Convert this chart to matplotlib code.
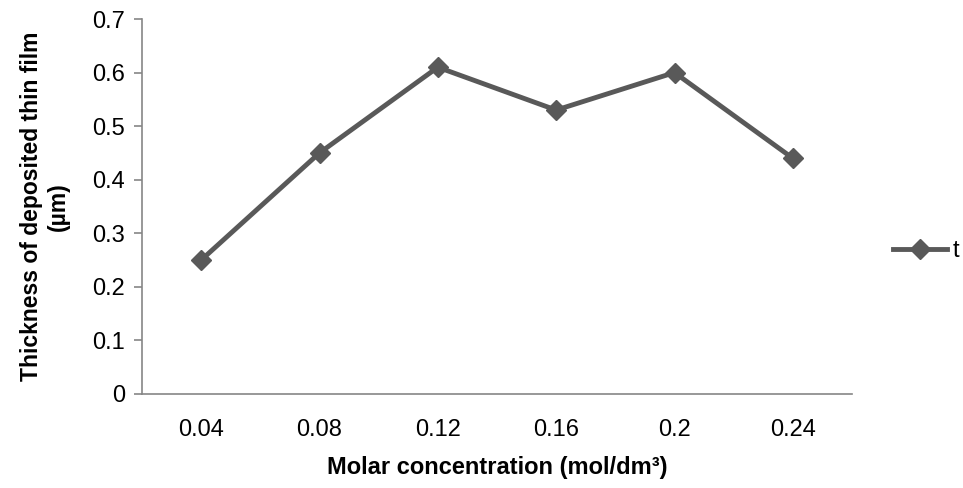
import matplotlib
matplotlib.use("Agg")
from matplotlib import pyplot as plt
from matplotlib import font_manager

# data
concentrations = ["0.04", "0.08", "0.12", "0.16", "0.2", "0.24"]
thickness = [0.25, 0.45, 0.61, 0.53, 0.60, 0.44]
series_name = "t"

names = {f.name for f in font_manager.fontManager.ttflist}
family = "Liberation Sans Narrow" if "Liberation Sans Narrow" in names else "Liberation Sans"
plt.rcParams["font.family"] = [family, "DejaVu Sans"]

line_color = "#595959"
axis_color = "#868686"

fig = plt.figure(figsize=(9.63, 4.88), dpi=100)
ax = fig.add_axes([142 / 963, 1 - 394 / 488, (852 - 142) / 963, (394 - 19) / 488])

x = list(range(len(concentrations)))
ax.plot(x, thickness, color=line_color, lw=3.5, marker="D", markersize=10,
        label=series_name, solid_joinstyle="miter")

ax.set_xlim(-0.5, len(concentrations) - 0.5)
ax.set_ylim(0, 0.7)
ax.set_yticks([0, 0.1, 0.2, 0.3, 0.4, 0.5, 0.6, 0.7])
ax.set_yticklabels(["0", "0.1", "0.2", "0.3", "0.4", "0.5", "0.6", "0.7"])
ax.set_xticks(x)
ax.set_xticklabels(concentrations)

for side in ["top", "right"]:
    ax.spines[side].set_visible(False)
for side in ["left", "bottom"]:
    ax.spines[side].set_color(axis_color)
    ax.spines[side].set_linewidth(1.2)

ax.tick_params(axis="y", length=6, width=1.2, color=axis_color, labelsize=17, pad=6)
ax.tick_params(axis="x", length=0, labelsize=17, pad=18)

ax.set_xlabel("Molar concentration (mol/dm³)", fontsize=17, fontweight="bold", labelpad=11)
ax.set_ylabel("Thickness of deposited thin film\n(µm)", fontsize=16.5, fontweight="bold",
              labelpad=16, linespacing=1.25)

ax.legend(loc="center left", bbox_to_anchor=(1.028, 0.38), frameon=False, fontsize=17,
          handlelength=2.3, handletextpad=0.2)

fig.savefig("out.png", dpi=100)
